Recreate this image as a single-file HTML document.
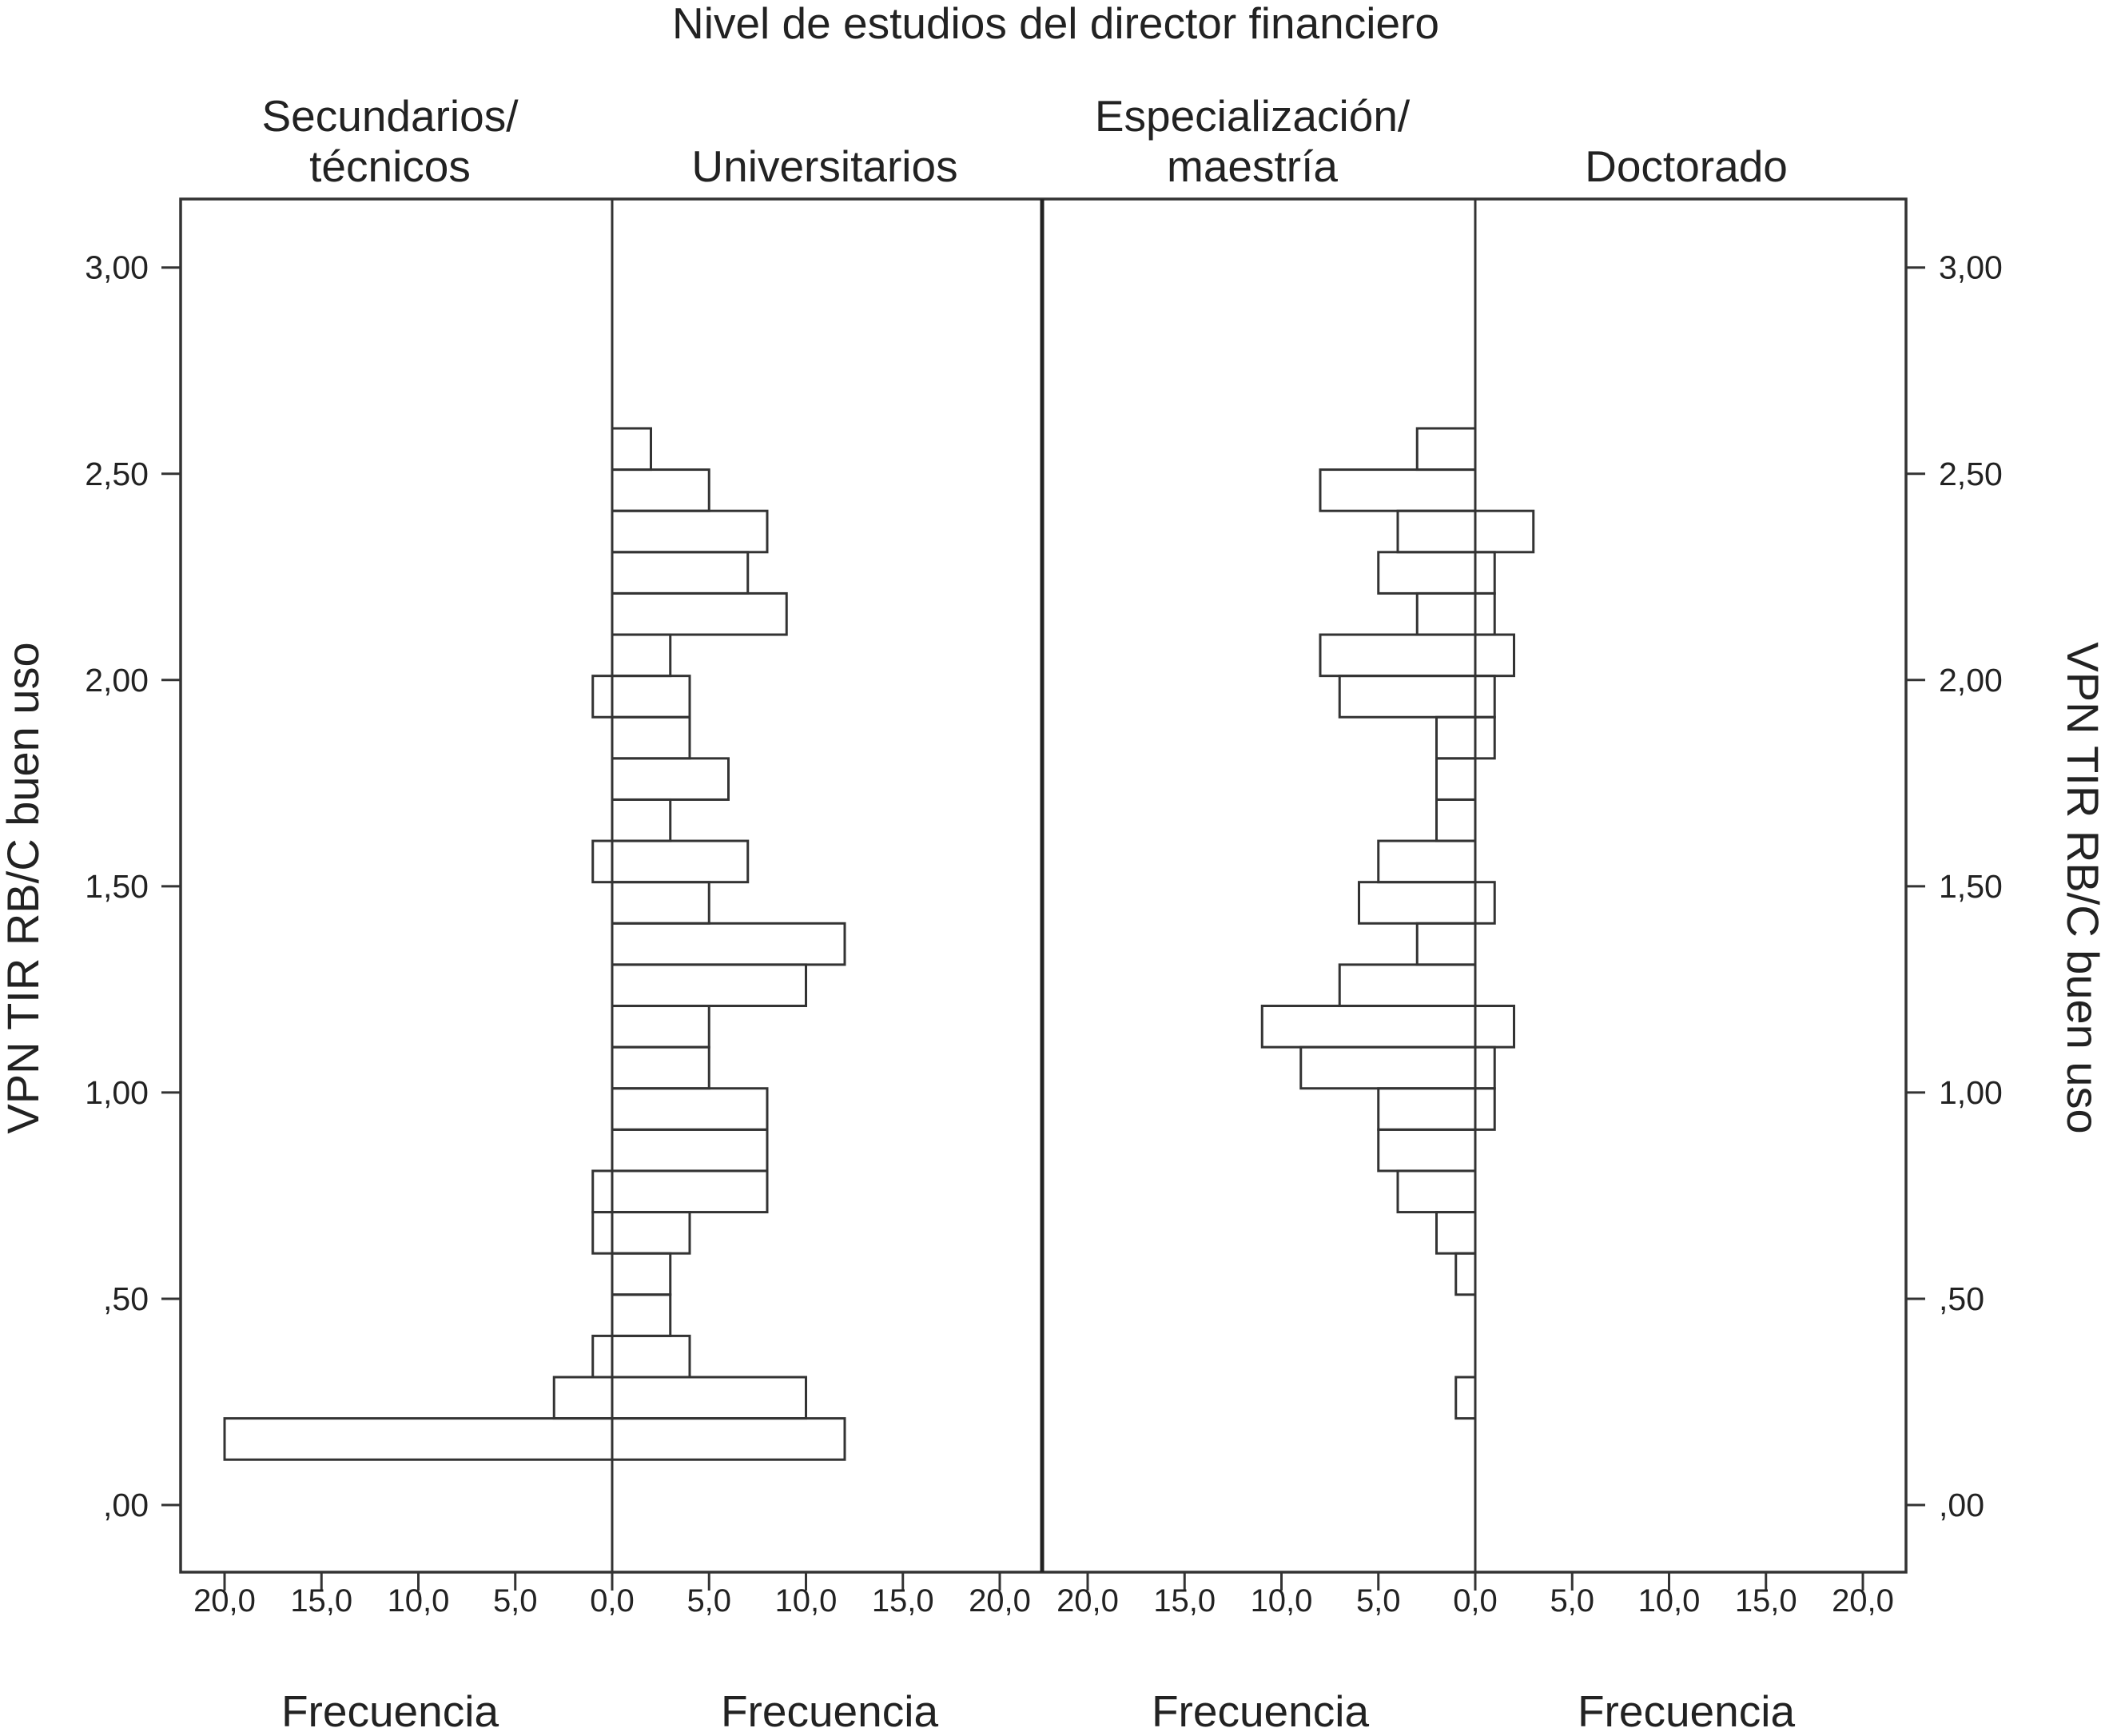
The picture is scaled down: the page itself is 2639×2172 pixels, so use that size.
<!DOCTYPE html>
<html><head><meta charset="utf-8">
<style>
html,body{margin:0;padding:0;background:#fff;}
svg{display:block;}
text{font-family:"Liberation Sans Narrow","Liberation Sans",sans-serif;fill:#222;}
</style></head>
<body>
<svg id="chart" width="2639" height="2172" viewBox="0 0 2639 2172" xmlns="http://www.w3.org/2000/svg">
<text x="1321" y="48" font-size="55" text-anchor="middle">Nivel de estudios del director financiero</text>
<text x="488" y="164" font-size="55" text-anchor="middle">Secundarios/</text>
<text x="488" y="227" font-size="55" text-anchor="middle">técnicos</text>
<text x="1032" y="227" font-size="55" text-anchor="middle">Universitarios</text>
<text x="1567" y="164" font-size="55" text-anchor="middle">Especialización/</text>
<text x="1567" y="227" font-size="55" text-anchor="middle">maestría</text>
<text x="2110" y="227" font-size="55" text-anchor="middle">Doctorado</text>
<text transform="translate(48,1111) rotate(-90)" font-size="56" text-anchor="middle">VPN TIR RB/C buen uso</text>
<text transform="translate(2587,1111) rotate(90)" font-size="56" text-anchor="middle">VPN TIR RB/C buen uso</text>
<g id="marks"></g>
</svg>
<script>
const binStarts = [0.11,0.21,0.31,0.41,0.51,0.61,0.71,0.81,0.91,1.01,1.11,1.21,1.31,1.41,1.51,1.61,1.71,1.81,1.91,2.01,2.11,2.21,2.31,2.41,2.51];
const secundarios = [20,3,1,0,0,1,1,0,0,0,0,0,0,0,1,0,0,0,1,0,0,0,0,0,0];
const universitarios = [12,10,4,3,3,4,8,8,8,5,5,10,12,5,7,3,6,4,4,3,9,7,8,5,2];
const especializacion = [0,1,0,0,1,2,4,5,5,9,11,7,3,6,5,2,2,2,7,8,3,5,4,8,3];
const doctorado = [0,0,0,0,0,0,0,0,1,1,2,0,0,1,0,0,0,1,1,2,1,1,3,0,0];
const yTicks = [0,0.5,1,1.5,2,2.5,3];
const yTickLabels = [",00",",50","1,00","1,50","2,00","2,50","3,00"];
const xTicks = [20,15,10,5,0,5,10,15,20];
const xTickLabels = ["20,0","15,0","10,0","5,0","0,0","5,0","10,0","15,0","20,0"];
const binWidth = 0.1;

const NS = "http://www.w3.org/2000/svg";
const g = document.getElementById('marks');
const L = 226, R = 2385, T = 249, B = 1967;
const zeroA = 766, zeroB = 1846, divX = 1304, unit = 24.25;
function yS(v){ return 1883 - v*516.1; }
function mk(tag, attrs){ const e = document.createElementNS(NS, tag); for (const k in attrs) e.setAttribute(k, attrs[k]); g.appendChild(e); return e; }

function drawBars(arr, zero, dir, name){
  arr.forEach((v,i)=>{
    if(!v) return;
    const y1 = yS(binStarts[i]+binWidth), y0 = yS(binStarts[i]);
    const x1 = zero + dir*v*unit;
    const r = mk('rect',{x:Math.min(zero,x1),y:y1,width:Math.abs(x1-zero),height:y0-y1,fill:'none',stroke:'#333','stroke-width':3});
    
    
  });
}
drawBars(secundarios, zeroA, -1, 'secundarios');
drawBars(universitarios, zeroA, 1, 'universitarios');
drawBars(especializacion, zeroB, -1, 'especializacion');
drawBars(doctorado, zeroB, 1, 'doctorado');

let e;
e = mk('rect',{x:L,y:T,width:R-L,height:B-T,fill:'none',stroke:'#333','stroke-width':3.5});


e = mk('line',{x1:zeroA,y1:T,x2:zeroA,y2:B,stroke:'#333','stroke-width':3});


e = mk('line',{x1:zeroB,y1:T,x2:zeroB,y2:B,stroke:'#333','stroke-width':3});


e = mk('line',{x1:divX,y1:T,x2:divX,y2:B,stroke:'#222','stroke-width':5});



yTicks.forEach((v,i)=>{
  const y = yS(v);
  let t = mk('line',{x1:L-24,y1:y,x2:L,y2:y,stroke:'#333','stroke-width':3});
  
  
  t = mk('line',{x1:R,y1:y,x2:R+24,y2:y,stroke:'#333','stroke-width':3});
  
  
  let tx = mk('text',{x:186,y:y+14,'font-size':41,'text-anchor':'end'});
  tx.textContent = yTickLabels[i];
  
  
  tx = mk('text',{x:2426,y:y+14,'font-size':41,'text-anchor':'start'});
  tx.textContent = yTickLabels[i];
  
  
});

[zeroA, zeroB].forEach((z,p)=>{
  xTicks.forEach((v,i)=>{
    const x = z + (i<4 ? -1 : 1)*v*unit;
    let t = mk('line',{x1:x,y1:B,x2:x,y2:B+23,stroke:'#333','stroke-width':3});
    
    
    let tx = mk('text',{x:x,y:2016,'font-size':40,'text-anchor':'middle'});
    tx.textContent = xTickLabels[i];
    
    
  });
});
[488,1038,1577,2110].forEach(cx=>{
  const tx = mk('text',{x:cx,y:2160,'font-size':55,'text-anchor':'middle'});
  tx.textContent = 'Frecuencia';
  
  
});
</script>
</body></html>
